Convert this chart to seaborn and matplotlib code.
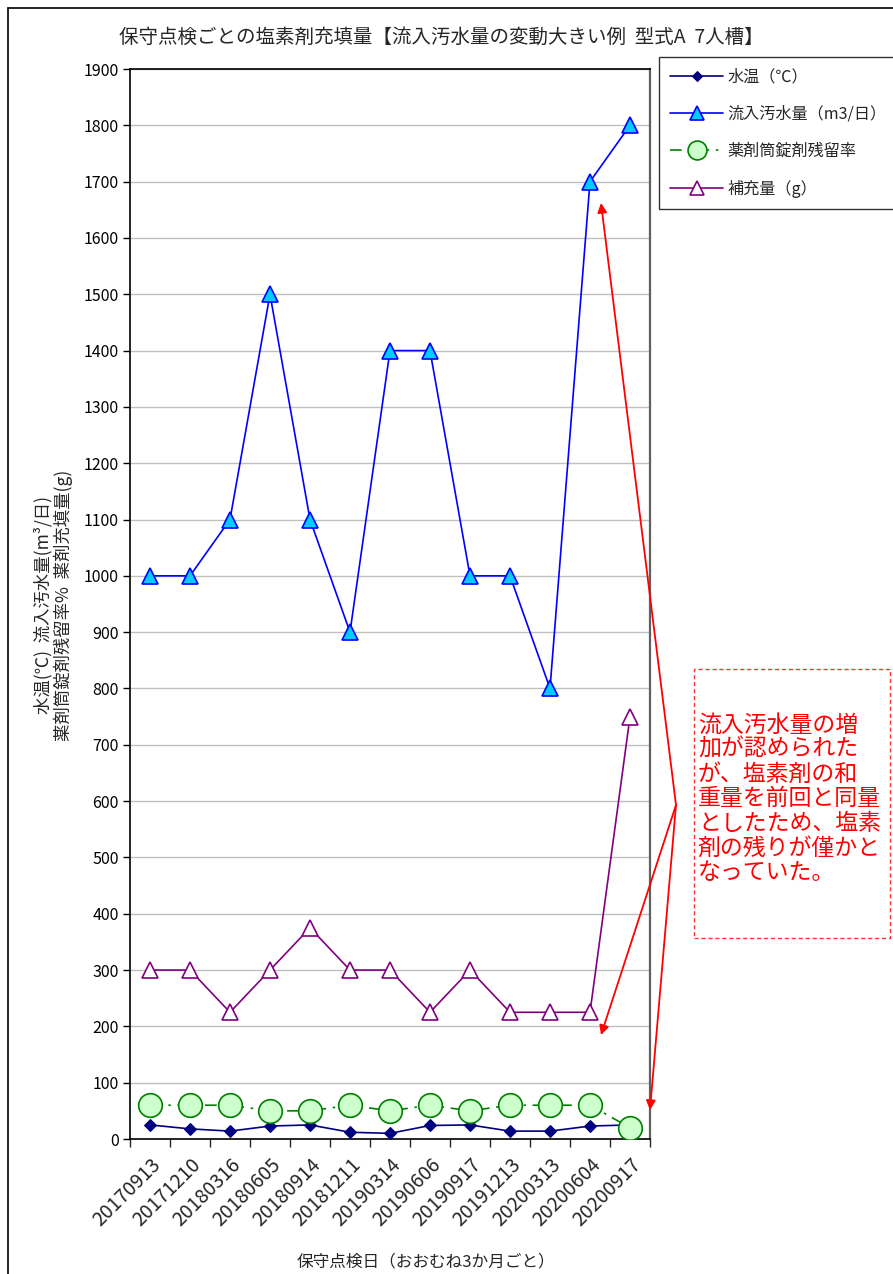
import matplotlib
matplotlib.use("Agg")
import matplotlib.pyplot as plt
from matplotlib.lines import Line2D
from matplotlib.patches import Rectangle
import seaborn as sns
import pandas as pd

# Inspection dates (roughly every three months)
dates = ["20170913", "20171210", "20180316", "20180605", "20180914", "20181211",
         "20190314", "20190606", "20190917", "20191213", "20200313", "20200604",
         "20200917"]
# Water temperature (°C)
water_temp = [25, 18, 14, 23, 25, 12, 10, 24, 25, 14, 14, 23, 25]
# Inflow sewage volume (m3/day)
inflow = [1000, 1000, 1100, 1500, 1100, 900, 1400, 1400, 1000, 1000, 800, 1700, 1800]
# Remaining tablet ratio in the chemical tube (%)
residual = [60, 60, 60, 50, 50, 60, 50, 60, 50, 60, 60, 60, 20]
# Refill amount (g)
refill = [300, 300, 225, 300, 375, 300, 300, 225, 300, 225, 225, 225, 750]

series_labels = ["水温（℃）", "流入汚水量（m3/日）", "薬剤筒錠剤残留率", "補充量（g）"]

sns.set_style("white")
plt.rcParams["font.family"] = ["Noto Sans CJK JP", "DejaVu Sans"]

W, H = 893, 1274
fig = plt.figure(figsize=(W / 100, H / 100), dpi=100)


def px(x, y):
    return x / W, 1 - y / H


ax = fig.add_axes([130 / W, 1 - 1139 / H, 520 / W, 1070 / H])

df = pd.DataFrame({"pos": range(len(dates)), "date": dates, "temp": water_temp,
                   "inflow": inflow, "residual": residual, "refill": refill})

sns.lineplot(data=df, x="pos", y="inflow", ax=ax, color="#0000FF", lw=1.2,
             marker="^", markersize=12, markerfacecolor="#00CCFF",
             markeredgecolor="#0000FF", markeredgewidth=1.2, sort=False,
             label=series_labels[1], zorder=4)
sns.lineplot(data=df, x="pos", y="refill", ax=ax, color="#800080", lw=1.2,
             marker="^", markersize=12, markerfacecolor="white",
             markeredgecolor="#800080", markeredgewidth=1.2, sort=False,
             label=series_labels[3], zorder=4)
sns.lineplot(data=df, x="pos", y="temp", ax=ax, color="#000080", lw=1.2,
             marker="D", markersize=6.5, markerfacecolor="#000080",
             markeredgecolor="#000080", sort=False,
             label=series_labels[0], zorder=4)
sns.lineplot(data=df, x="pos", y="residual", ax=ax, color="#008000", lw=1.2,
             linestyle=(0, (7, 4, 1.5, 4)),
             marker="o", markersize=17, markerfacecolor="#CCFFCC",
             markeredgecolor="#008000", markeredgewidth=1.2, sort=False,
             label=series_labels[2], zorder=5)

ax.set_xlim(-0.5, len(dates) - 0.5)
ax.set_ylim(0, 1900)
ax.set_yticks(range(0, 2000, 100))
ax.tick_params(axis="y", labelsize=11.5, length=5, width=1, direction="out",
               left=True, pad=3, colors="black")
ax.set_xticks(range(len(dates)))
ax.set_xticklabels(dates, rotation=45, ha="right", rotation_mode="anchor",
                   fontsize=14)
ax.tick_params(axis="x", which="major", length=0, pad=11)
ax.set_xticks([i - 0.5 for i in range(len(dates) + 1)], minor=True)
ax.tick_params(axis="x", which="minor", length=6, width=1, direction="out",
               bottom=True)
ax.grid(axis="y", color="#C0C0C0", lw=1)
ax.grid(axis="x", visible=False)
ax.set_axisbelow(True)
for side in ["left", "bottom", "top"]:
    ax.spines[side].set_color("black")
    ax.spines[side].set_linewidth(1.2)
ax.spines["right"].set_color("#606060")
ax.spines["right"].set_linewidth(1.6)
ax.set_xlabel("")
ax.set_ylabel("")

# Legend to the right of the plot area
handles, labels = ax.get_legend_handles_labels()
if ax.get_legend() is not None:
    ax.get_legend().remove()
order = [labels.index(s) for s in series_labels]
x0, y0 = px(659, 57)
leg = fig.legend([handles[i] for i in order], [labels[i] for i in order],
                 loc="upper left", bbox_to_anchor=(x0, y0 - 152 / H, 1 - x0 + 0.03, 152 / H),
                 mode="expand", frameon=True, fancybox=False, edgecolor="black",
                 fontsize=11.6, handlelength=3.3, labelspacing=1.25,
                 borderpad=0.7, handletextpad=0.25, borderaxespad=0,
                 markerscale=0.8)
leg.get_frame().set_linewidth(1.0)

# Titles and axis labels
fig.text(*px(441, 37), "保守点検ごとの塩素剤充填量【流入汚水量の変動大きい例  型式A  7人槽】",
         ha="center", va="center", fontsize=14)
fig.text(*px(426, 1262), "保守点検日（おおむね3か月ごと）", ha="center", va="center",
         fontsize=12)
fig.text(*px(43, 605), "水温(℃)  流入汚水量(m³/日)", rotation=90,
         ha="center", va="center", fontsize=12.5)
fig.text(*px(63, 605), "薬剤筒錠剤残留率%  薬剤充填量(g)", rotation=90,
         ha="center", va="center", fontsize=12.5)

# Outer chart frame
fig.add_artist(Line2D([8 / W, 8 / W], [0, 1 - 8 / H], color="black", lw=1.2))
fig.add_artist(Line2D([8 / W, 1], [1 - 8 / H, 1 - 8 / H], color="black", lw=1.2))

# Callout box with note
fig.add_artist(Rectangle(px(694, 938), 196 / W, 269 / H, fill=False,
                         edgecolor="#FF3333", lw=1.0, linestyle=(0, (3, 2))))
note_lines = ["流入汚水量の増", "加が認められた", "が、塩素剤の和", "重量を前回と同量",
              "としたため、塩素", "剤の残りが僅かと", "なっていた。"]
for i, line in enumerate(note_lines):
    fig.text(*px(698, 725 + i * 24.6), line, ha="left", va="center",
             fontsize=16.5, color="red")

# Arrows from the callout to the relevant points
start = (676, H - 805)
for tx, ty in [(601, 203), (601, 1035), (650, 1110)]:
    ax.annotate("", xy=(tx, H - ty), xycoords="figure pixels",
                xytext=start, textcoords="figure pixels",
                arrowprops=dict(arrowstyle="-|>", color="red", lw=1.3,
                                mutation_scale=14, shrinkA=0, shrinkB=0),
                annotation_clip=False)

fig.savefig("out.png", dpi=100)
